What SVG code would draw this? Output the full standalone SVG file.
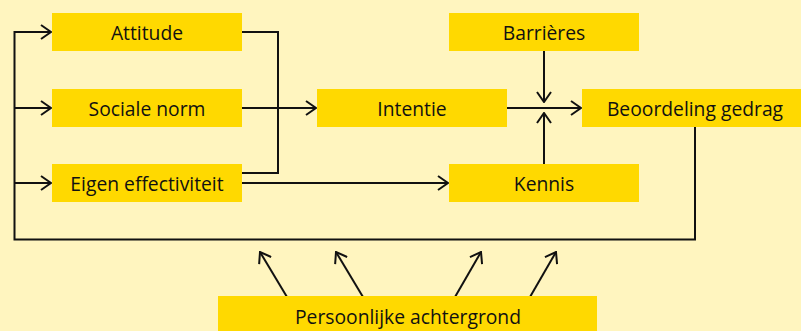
<svg xmlns="http://www.w3.org/2000/svg" width="801" height="331" viewBox="0 0 801 331">
  <style>
    .box { fill: #FFD900; }
    .lbl { font-family: "Open Sans", "Noto Sans", sans-serif; font-size: 19.3px; fill: #111; text-anchor: middle; dominant-baseline: central; }
    .ln { fill: none; stroke: #111; stroke-width: 2; }
    .ah { fill: none; stroke: #111; stroke-width: 2; }
  </style>
  <defs>
    <marker id="open" viewBox="0 0 12 16" refX="11" refY="8" markerWidth="12" markerHeight="16" markerUnits="userSpaceOnUse" orient="auto">
      <path class="ah" d="M1,1 L11,8 L1,15"/>
    </marker>
  </defs>
  <rect width="801" height="331" fill="#FFF5BF"/>

  <g id="connectors">
    <!-- feedback loop from behaviour back to the three determinants -->
    <path class="ln" d="M695,127 V239.5 H14.5 V32 H51" marker-end="url(#open)"/>
    <path class="ln" d="M14.5,108 H51" marker-end="url(#open)"/>
    <path class="ln" d="M14.5,183 H51" marker-end="url(#open)"/>
    <!-- determinants to intention -->
    <path class="ln" d="M242,32 H278 V173 H242"/>
    <path class="ln" d="M242,108 H316" marker-end="url(#open)"/>
    <!-- self-efficacy to knowledge -->
    <path class="ln" d="M242,183 H448" marker-end="url(#open)"/>
    <!-- intention to behaviour, moderated by barriers and knowledge -->
    <path class="ln" d="M507,108 H581" marker-end="url(#open)"/>
    <path class="ln" d="M544,51 V102" marker-end="url(#open)"/>
    <path class="ln" d="M544,164 V113" marker-end="url(#open)"/>
    <!-- personal background influences -->
    <path class="ln" d="M287,297 L260,252" marker-end="url(#open)"/>
    <path class="ln" d="M363,297 L336,252" marker-end="url(#open)"/>
    <path class="ln" d="M455,297 L481,252" marker-end="url(#open)"/>
    <path class="ln" d="M530,297 L556,252" marker-end="url(#open)"/>
  </g>

  <g id="attitude"><rect class="box" x="52" y="13" width="190" height="38"/><text class="lbl" x="147" y="32">Attitude</text></g>
  <g id="sociale-norm"><rect class="box" x="52" y="89" width="190" height="38"/><text class="lbl" x="147" y="108">Sociale norm</text></g>
  <g id="eigen-effectiviteit"><rect class="box" x="52" y="164" width="190" height="38"/><text class="lbl" x="147" y="183">Eigen effectiviteit</text></g>
  <g id="intentie"><rect class="box" x="317" y="89" width="190" height="38"/><text class="lbl" x="412" y="108">Intentie</text></g>
  <g id="barrieres"><rect class="box" x="449" y="13" width="190" height="38"/><text class="lbl" x="544" y="32">Barrières</text></g>
  <g id="kennis"><rect class="box" x="449" y="164" width="190" height="38"/><text class="lbl" x="544" y="183">Kennis</text></g>
  <g id="beoordeling-gedrag"><rect class="box" x="582" y="89" width="219" height="38"/><text class="lbl" x="695" y="108">Beoordeling gedrag</text></g>
  <g id="persoonlijke-achtergrond"><rect class="box" x="218" y="296" width="379" height="35"/><text class="lbl" x="408" y="316">Persoonlijke achtergrond</text></g>
</svg>
